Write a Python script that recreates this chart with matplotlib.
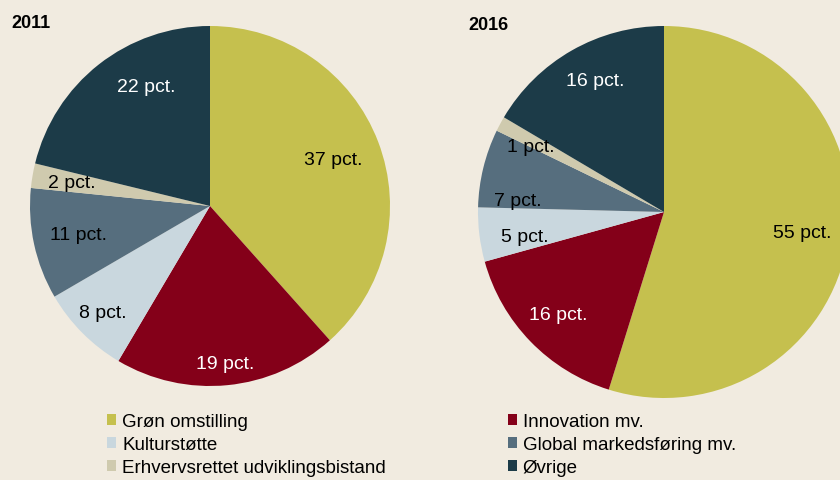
import matplotlib
matplotlib.use('Agg')
import matplotlib.pyplot as plt
import numpy as np

plt.rcParams['font.family'] = ['Liberation Sans', 'DejaVu Sans']

kategorier = ['Grøn omstilling', 'Innovation mv.', 'Kulturstøtte',
              'Global markedsføring mv.', 'Erhvervsrettet udviklingsbistand', 'Øvrige']
andele_2011 = [38.4, 20.1, 8.1, 10.0, 2.2, 21.2]
andele_2016 = [54.8, 15.9, 4.7, 6.8, 1.3, 16.5]
etiketter_2011 = ['37 pct.', '19 pct.', '8 pct.', '11 pct.', '2 pct.', '22 pct.']
etiketter_2016 = ['55 pct.', '16 pct.', '5 pct.', '7 pct.', '1 pct.', '16 pct.']

farver = ['#C5C04E', '#840019', '#C9D7DE', '#566E7E', '#CFCAAE', '#1C3B48']
tekstfarver = ['black', 'white', 'black', 'black', 'black', 'white']
baggrund = '#F1EBE0'

W, H = 840, 481
fig = plt.figure(figsize=(W / 100, H / 100), dpi=100, facecolor=baggrund)


def tegn_pie(cx, cy, r, andele, etiketter, afstande, drej, titel, titel_x, titel_y):
    ax = fig.add_axes([(cx - r) / W, 1 - (cy + r) / H, 2 * r / W, 2 * r / H])
    ax.set_facecolor(baggrund)
    wedges, _ = ax.pie(andele, colors=farver, startangle=90, counterclock=False,
                       wedgeprops=dict(linewidth=0))
    for w, lab, d, dv, c in zip(wedges, etiketter, afstande, drej, tekstfarver):
        vinkel = np.deg2rad((w.theta1 + w.theta2) / 2 + dv)
        ax.text(d * np.cos(vinkel), d * np.sin(vinkel), lab, ha='center', va='center',
                fontsize=14, color=c)
    ax.set_xlim(-1, 1)
    ax.set_ylim(-1, 1)
    ax.set_aspect('equal')
    ax.axis('off')
    fig.text(titel_x / W, 1 - titel_y / H, titel, fontsize=13, fontweight='bold', va='center')
    return wedges


wedges = tegn_pie(210, 207, 180, andele_2011, etiketter_2011,
                  [0.73, 0.88, 0.84, 0.75, 0.78, 0.75], [0, 0, 0, 0, 0, -10],
                  '2011', 11, 23)
tegn_pie(664, 213, 186, andele_2016, etiketter_2016,
         [0.75, 0.79, 0.76, 0.79, 0.80, 0.80], [0, 0, 3, 9, 2, -2],
         '2016', 468, 25)

raekkefolge = [0, 2, 4, 1, 3, 5]
fig.legend([wedges[i] for i in raekkefolge], [kategorier[i] for i in raekkefolge],
           ncol=2, loc='upper left', bbox_to_anchor=(107 / W, 1 - 414 / H),
           frameon=False, fontsize=13.5, handlelength=0.5, handleheight=0.5,
           handletextpad=0.3, labelspacing=0.32, columnspacing=6.5,
           borderpad=0, borderaxespad=0)

fig.savefig('out.png', dpi=100, facecolor=baggrund)
